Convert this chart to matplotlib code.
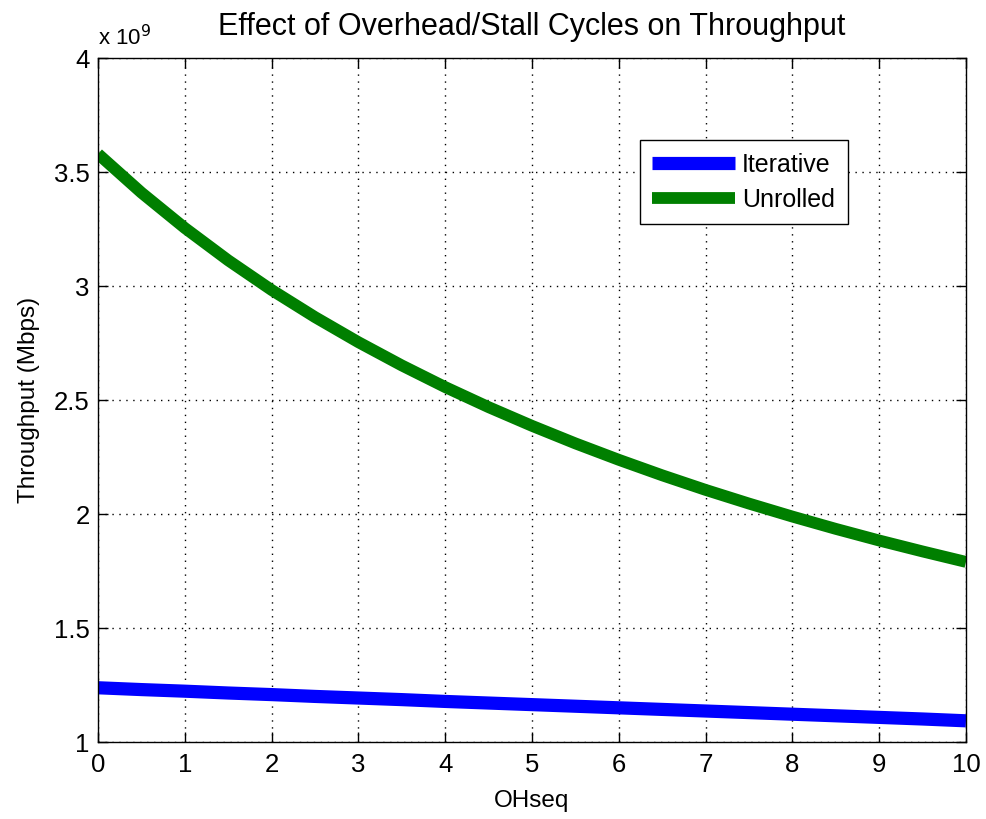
import numpy as np
import matplotlib.pyplot as plt

plt.rcParams['font.family'] = ['Liberation Sans', 'DejaVu Sans']

oh_seq = [0, 0.5, 1, 1.5, 2, 2.5, 3, 3.5, 4, 4.5, 5, 5.5, 6, 6.5, 7, 7.5, 8, 8.5, 9, 9.5, 10]
iterative = [1.238e9, 1.230e9, 1.223e9, 1.215e9, 1.208e9, 1.200e9, 1.193e9, 1.186e9, 1.178e9, 1.171e9,
             1.164e9, 1.157e9, 1.150e9, 1.143e9, 1.136e9, 1.129e9, 1.122e9, 1.115e9, 1.108e9, 1.101e9, 1.093e9]
unrolled = [3.580e9, 3.410e9, 3.255e9, 3.113e9, 2.983e9, 2.864e9, 2.754e9, 2.652e9, 2.557e9, 2.469e9,
            2.387e9, 2.310e9, 2.238e9, 2.170e9, 2.106e9, 2.046e9, 1.989e9, 1.935e9, 1.884e9, 1.836e9, 1.790e9]
xticks = list(range(0, 11))
yticks = [1, 1.5, 2, 2.5, 3, 3.5, 4]

fig = plt.figure(figsize=(9.86, 8.19), dpi=100)
ax = fig.add_axes([0.0994, 0.094, 0.8803, 0.835])

scale = 1e9
ax.plot(oh_seq, np.array(iterative) / scale, color='#0000ff', lw=9.5, label='Iterative', solid_capstyle='butt')
ax.plot(oh_seq, np.array(unrolled) / scale, color='#007f00', lw=8.5, label='Unrolled', solid_capstyle='butt')

ax.set_xlim(0, 10)
ax.set_ylim(1, 4)
ax.set_xticks(xticks)
ax.set_yticks(yticks)
ax.set_yticklabels(['1', '1.5', '2', '2.5', '3', '3.5', '4'])
ax.tick_params(direction='in', top=True, right=True, length=7, width=1, labelsize=18.5)
ax.tick_params(axis='x', pad=8)
ax.tick_params(axis='y', pad=6)
ax.grid(True, color='black', linestyle=(0, (1, 4)), linewidth=1)
for s in ax.spines.values():
    s.set_linewidth(1)

ax.text(0.0, 1.012, r'x 10$^9$', transform=ax.transAxes, fontsize=16, ha='left', va='bottom')
ax.set_title('Effect of Overhead/Stall Cycles on Throughput', fontsize=22, pad=17)
ax.set_xlabel('OHseq', fontsize=17.5, labelpad=9)
ax.set_ylabel('Throughput (Mbps)', fontsize=17.5, labelpad=10)

leg = ax.legend(loc='upper left', bbox_to_anchor=(0.624, 0.88), fontsize=18,
                fancybox=False, edgecolor='black', framealpha=1, handlelength=3.3,
                borderpad=0.5, labelspacing=0.45, handletextpad=0.3, borderaxespad=0)
leg.get_frame().set_linewidth(1)

fig.savefig('out.png', dpi=100)
